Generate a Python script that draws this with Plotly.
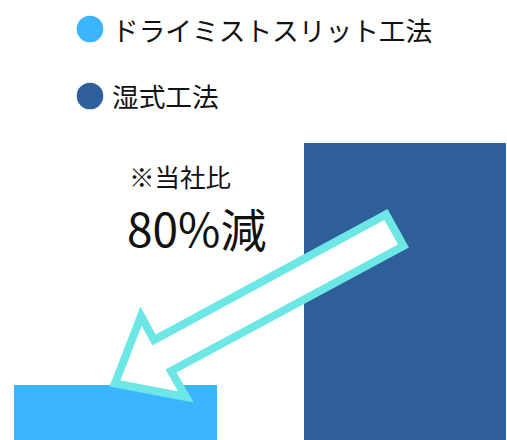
import plotly.graph_objects as go

# ---- data ----
methods = ["ドライミストスリット工法", "湿式工法"]
values = [18.5, 100]
colors = ["#3bb5fe", "#2e5f98"]
note_text = "※当社比"
reduction_text = "80%減"

W, H = 507, 440
FONT = "Noto Sans CJK JP"


def px(x):
    return x / W


def py(y):
    return 1 - y / H


fig = go.Figure()
fig.add_trace(go.Bar(
    x=methods, y=values, width=0.70,
    marker=dict(color=colors, line=dict(width=0)),
    showlegend=False, hoverinfo="skip",
))

# custom legend (large circles + text)
shapes = []
annotations = []
legend_y = [29, 96]
for name, col, ly in zip(methods, colors, legend_y):
    r = 13.3
    shapes.append(dict(type="circle", xref="paper", yref="paper",
                       x0=px(90 - r), x1=px(90 + r), y0=py(ly + r), y1=py(ly - r),
                       fillcolor=col, line=dict(width=0), layer="above"))
    annotations.append(dict(text=name, xref="paper", yref="paper",
                            x=px(110), y=py(ly), xanchor="left", yanchor="middle",
                            showarrow=False, font=dict(family=FONT, size=26.7, color="#111111")))

# arrow (decoration)
pts = [(386, 214.5), (403.5, 246), (171, 371), (186, 397), (115, 383.5), (141, 316), (154, 340)]
path = "M " + " L ".join(f"{px(x):.5f},{py(y):.5f}" for x, y in pts) + " Z"
shapes.append(dict(type="path", xref="paper", yref="paper", path=path,
                   fillcolor="white", line=dict(color="#6de6e6", width=8), layer="above"))

annotations.append(dict(text=note_text, xref="paper", yref="paper",
                        x=px(127), y=py(175.5), xanchor="left", yanchor="middle",
                        showarrow=False, font=dict(family=FONT, size=25.5, color="#111111")))
annotations.append(dict(text=reduction_text, xref="paper", yref="paper",
                        x=px(125), y=py(226.5), xanchor="left", yanchor="middle",
                        showarrow=False, font=dict(family=FONT, size=46, color="#111111")))

fig.update_layout(
    width=W, height=H,
    margin=dict(l=0, r=0, t=0, b=0),
    paper_bgcolor="white", plot_bgcolor="white",
    xaxis=dict(type="category", range=[-0.399, 1.352], visible=False, fixedrange=True),
    yaxis=dict(range=[0, 148.15], visible=False, fixedrange=True),
    shapes=shapes, annotations=annotations,
    bargap=0,
)

fig.write_html(
    "out.html",
    config={"displayModeBar": False},
    post_script="document.body.style.margin='0px';document.body.style.overflow='hidden';",
)
